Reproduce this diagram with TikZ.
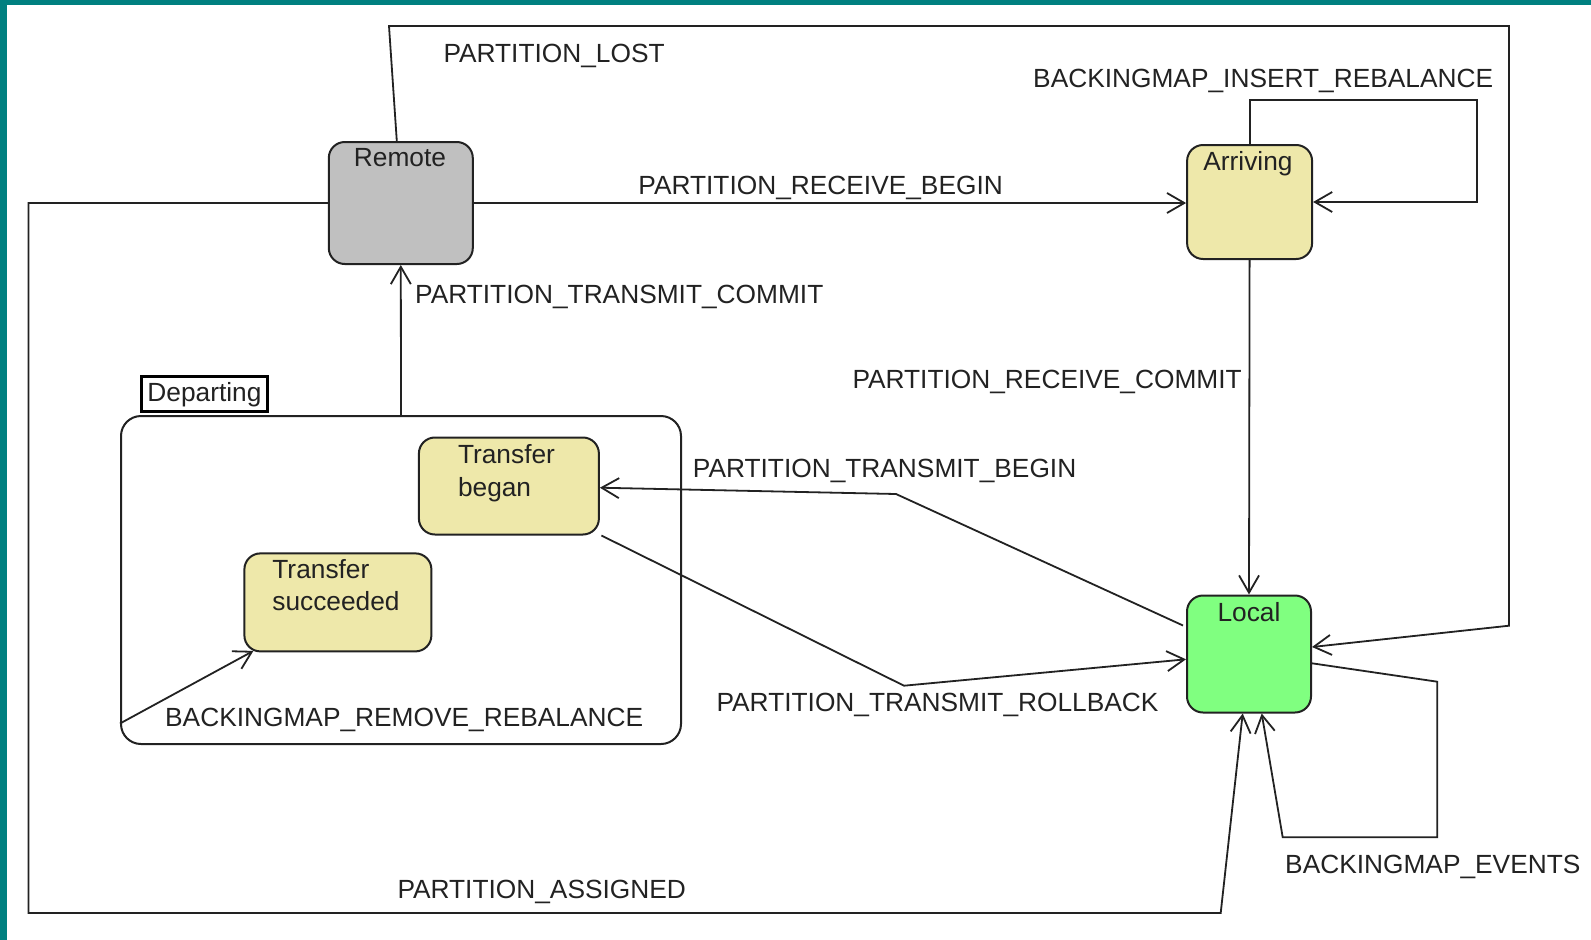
\documentclass[tikz,border=0pt]{standalone}
\usepackage{fontspec}
\setmainfont{Liberation Sans}
\usetikzlibrary{arrows.meta,calc}
\definecolor{teal0}{HTML}{008080}
\definecolor{gray0}{HTML}{C0C0C0}
\definecolor{yel0}{HTML}{EEE8AA}
\definecolor{grn0}{HTML}{80FF80}
\definecolor{ln}{HTML}{222222}
\begin{document}
\begin{tikzpicture}[x=1pt,y=-1pt,
  every node/.style={font=\fontsize{26.3}{33}\selectfont, text=ln},
  state/.style={draw=ln, line width=2pt, rounded corners=16pt, inner sep=0pt},
  conn/.style={draw=ln, line width=1.8pt},
  arr/.style={conn, -{Straight Barb[angle=60:20pt]}},
  lbl/.style={inner sep=0pt, anchor=base west},
  ttl/.style={inner sep=0pt, anchor=base}]
\fill[white] (0,0) rectangle (1591,940);
\fill[teal0] (0,0) rectangle (1591,5);
\fill[teal0] (0,0) rectangle (7,940);
\useasboundingbox (0,0) rectangle (1591,940);

% states
\node[state, fill=gray0, minimum width=144pt, minimum height=122pt] (remote) at (400.8,203) {};
\node[state, fill=yel0, minimum width=125pt, minimum height=114pt] (arriving) at (1249.6,202) {};
\node[state, fill=grn0, minimum width=124pt, minimum height=117pt] (local) at (1249,654) {};
\node[state, rounded corners=20pt, minimum width=560pt, minimum height=328pt] (departing) at (401,580) {};
\node[draw=black, line width=3pt, fill=white, minimum width=126pt, minimum height=35pt, inner sep=0pt] (deptab) at (204.5,394.2) {Departing};
\node[state, fill=yel0, minimum width=180pt, minimum height=97pt] (tb) at (508.9,486) {};
\node[state, fill=yel0, minimum width=187pt, minimum height=98pt] (ts) at (337.9,602.4) {};

% titles
\node[ttl] (remotet) at (400,166.7) {Remote};
\node[ttl] (arrivingt) at (1248,170.5) {Arriving};
\node[ttl] (localt) at (1249,621) {Local};
\node[inner sep=0pt, anchor=north west, align=left] (tbt) at (457.8,444.5) {Transfer\\began};
\node[inner sep=0pt, anchor=north west, align=left, font=\fontsize{26.3}{31.7}\selectfont] (tst) at (272.2,559.1) {Transfer\\succeeded};

% bend points
\coordinate (pl1) at (389,26);
\coordinate (pl2) at (1509,26);
\coordinate (pl3) at (1509,625.7);
\coordinate (ir1) at (1476.8,100);
\coordinate (pa1) at (28.4,203);
\coordinate (pa2) at (28.4,913);
\coordinate (pa3) at (1220.7,913);
\coordinate (be1) at (1437.3,681.7);
\coordinate (be2) at (1437.3,837.3);
\coordinate (be3) at (1282.7,837.3);
\coordinate (tbg1) at (896,494);
\coordinate (trb1) at (904,685.7);

% connectors
\draw[arr] ($(remote.north)+(-4,0)$) -- (pl1) -- (pl2) -- (pl3) -- ($(local.east)+(0,-7)$);
\draw[arr] (remote.east) -- (remote.east -| arriving.west);
\draw[arr] (arriving.north) -- (arriving.north |- ir1) -- (ir1) -- (ir1 |- arriving.east) -- (arriving.east);
\draw[arr] (arriving.south) -- (local.north);
\draw[arr] (departing.north) -- (remote.south);
\draw[arr] (remote.west) -- (pa1) -- (pa2) -- (pa3) -- ($(local.south)+(-6.3,0)$);
\draw[arr] ($(local.east)+(0,9.3)$) -- (be1) -- (be2) -- (be3) -- ($(local.south)+(12.7,0)$);
\draw[arr] ($(local.west)+(-3,-28.5)$) -- (tbg1) -- ($(tb.east)+(0,1.7)$);
\draw[arr] ($(tb.south east)+(1.5,0)$) -- (trb1) -- ($(local.west)+(0,5.3)$);
\draw[arr] ($(departing.west)+(0,143.5)$) -- ($(ts.south west)+(10,-1.5)$);

% labels
\node[lbl] (l1) at (443.3,62.7) {PARTITION\_LOST};
\node[lbl] (l2) at (1033,87.3) {BACKINGMAP\_INSERT\_REBALANCE};
\node[lbl] (l3) at (638.2,194.2) {PARTITION\_RECEIVE\_BEGIN};
\node[lbl] (l4) at (415,303.5) {PARTITION\_TRANSMIT\_COMMIT};
\node[lbl] (l5) at (852.3,388) {PARTITION\_RECEIVE\_COMMIT};
\node[lbl] (l6) at (692.7,477.3) {PARTITION\_TRANSMIT\_BEGIN};
\node[lbl] (l7) at (716.4,711.7) {PARTITION\_TRANSMIT\_ROLLBACK};
\node[lbl] (l8) at (165,726.7) {BACKINGMAP\_REMOVE\_REBALANCE};
\node[lbl] (l9) at (397.3,898.3) {PARTITION\_ASSIGNED};
\node[lbl] (l10) at (1285,873) {BACKINGMAP\_EVENTS};
\end{tikzpicture}
\end{document}
